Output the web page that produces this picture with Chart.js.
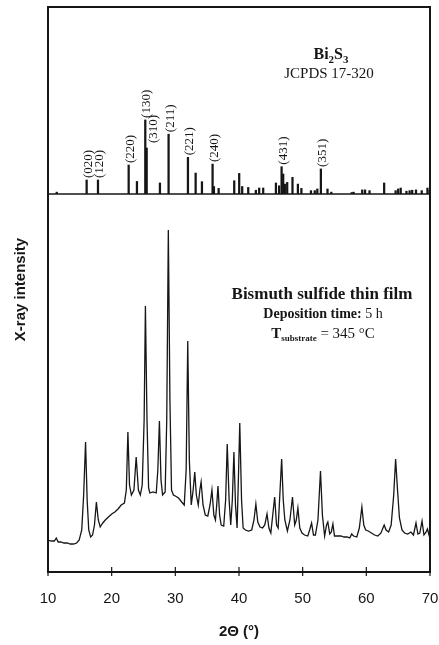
<!DOCTYPE html>
<html><head><meta charset="utf-8">
<script src="https://cdn.jsdelivr.net/npm/chart.js@4.4.0/dist/chart.umd.min.js"></script>
<style>html,body{margin:0;padding:0;background:#fff;}canvas{display:block;}</style>
</head><body>
<canvas id="c" width="439" height="645"></canvas>
<script>
// ---- Reference pattern (JCPDS 17-320) sticks ----
const refAngles = [11.37,16.07,17.85,22.67,23.97,25.28,25.5,27.58,28.94,31.98,33.19,34.18,35.85,36.06,36.8,39.25,40.03,40.5,41.45,42.65,43.17,43.8,45.8,46.3,46.69,46.94,47.2,47.57,48.4,49.25,49.8,51.3,51.9,52.3,52.86,53.9,54.5,57.7,58.0,59.35,59.8,60.5,62.8,64.6,65.0,65.4,66.3,66.8,67.2,67.8,68.7,69.6,69.95];
const refIntensity = [1,7.5,7.5,15.5,6.7,39.6,24.6,5.9,32,19.6,11.2,6.6,16,4,3,7.1,11,4,3.5,2,3.2,3.2,5.9,4.4,14.6,10.7,5.3,6.2,8.9,5.3,3,1.8,1.8,2.7,13.4,2.7,1,0.8,1,2.2,2.2,1.8,5.9,1.8,2.7,3.2,1.5,1.8,2,2.2,1.8,3.2,2];
// ---- hkl labels and the stick each belongs to ----
const hklLabels = ['(020)','(120)','(220)','(130)','(310)','(211)','(221)','(240)','(431)','(351)'];
const hklAngles = [16.07,17.85,22.67,25.28,25.5,28.94,31.98,35.85,46.69,52.86];
// ---- Measured thin-film pattern ----
const filmAngles = [10.0,10.5,11.0,11.3,11.6,12.0,12.5,13.0,13.5,14.0,14.5,14.9,15.3,15.6,15.9,16.15,16.4,16.7,17.0,17.3,17.6,17.9,18.2,18.6,19.0,19.5,20.0,20.5,21.0,21.5,22.0,22.3,22.55,22.8,23.1,23.5,23.85,24.2,24.5,24.8,25.1,25.3,25.55,25.8,26.0,26.5,27.0,27.25,27.5,27.75,28.0,28.4,28.65,28.9,29.15,29.4,29.7,30.0,30.5,31.0,31.4,31.7,31.95,32.2,32.5,32.8,33.05,33.3,33.6,33.85,34.05,34.35,34.7,35.1,35.45,35.75,36.05,36.3,36.5,36.7,36.95,37.2,37.6,37.9,38.15,38.45,38.7,38.95,39.2,39.45,39.7,39.9,40.12,40.4,40.65,41.0,41.5,42.0,42.35,42.65,42.95,43.3,43.7,44.05,44.4,44.7,45.0,45.3,45.6,45.9,46.15,46.45,46.7,46.95,47.2,47.6,48.0,48.4,48.75,49.0,49.25,49.55,49.9,50.3,50.8,51.1,51.4,51.7,52.0,52.4,52.8,53.1,53.45,53.75,53.95,54.25,54.5,54.75,55.0,55.5,56.0,56.5,57.0,57.4,57.7,58.0,58.5,58.9,59.3,59.6,59.9,60.3,60.8,61.3,61.8,62.3,62.8,63.1,63.5,63.9,64.3,64.6,64.9,65.2,65.6,66.0,66.5,67.0,67.4,67.8,68.1,68.4,68.75,69.05,69.3,69.6,69.85,70.0];
const filmIntensity = [32,31,31,34,30,30,29,29,28,28,29,32,42,77,130,72,42,35,37,47,70,52,45,49,52,55,58,60,63,67,69,82,140,87,77,82,115,82,77,87,152,266,152,84,79,80,79,102,151,92,77,80,152,342,172,82,77,76,74,70,67,102,231,112,67,82,100,77,67,82,90,67,57,56,67,82,57,52,67,86,57,47,46,72,128,72,47,72,120,67,44,92,149,72,44,42,41,42,52,68,50,45,44,47,58,44,39,57,75,47,44,82,113,72,52,41,52,75,47,52,64,44,39,37,36,42,49,37,37,52,101,57,36,47,50,38,40,48,36,36,36,35,35,34,38,36,35,44,65,47,42,41,39,37,36,39,47,42,40,47,77,113,82,54,42,39,38,40,37,49,38,39,51,37,39,43,37,39];
// ---- Axis ticks ----
const xTickValues = [10,20,30,40,50,60,70];

const INK = '#161616';
const labelStyle = {'(310)': {dx: 6, gap: 5}};

function drawRuns(ctx, runs, cx, cy) {
  let w = 0;
  runs.forEach(r => { ctx.font = r.font; r.w = ctx.measureText(r.t).width; w += r.w; });
  let x = cx - w / 2;
  ctx.textAlign = 'left'; ctx.textBaseline = 'alphabetic';
  runs.forEach(r => { ctx.font = r.font; ctx.fillText(r.t, x, cy + (r.dy || 0)); x += r.w; });
}

const annot = {
  id: 'annot',
  afterDatasetsDraw(chart) {
    const {ctx, chartArea: ca, scales} = chart;
    const x = scales.x, yT = scales.yT, yB = scales.yB;
    ctx.save();
    ctx.strokeStyle = INK; ctx.fillStyle = INK;
    // frame
    ctx.lineWidth = 2;
    ctx.strokeRect(ca.left, ca.top, ca.right - ca.left, ca.bottom - ca.top);
    ctx.lineWidth = 1.5;
    ctx.beginPath(); ctx.moveTo(ca.left, yB.top); ctx.lineTo(ca.right, yB.top); ctx.stroke();
    // x tick marks crossing the axis
    ctx.lineWidth = 1.2;
    xTickValues.forEach(v => {
      const px = x.getPixelForValue(v);
      ctx.beginPath(); ctx.moveTo(px, ca.bottom - 5); ctx.lineTo(px, ca.bottom + 4); ctx.stroke();
    });
    // hkl labels
    ctx.font = '13px "Liberation Serif", serif';
    ctx.textAlign = 'left'; ctx.textBaseline = 'middle';
    hklLabels.forEach((lab, i) => {
      const a = hklAngles[i];
      const h = refIntensity[refAngles.indexOf(a)];
      const st = labelStyle[lab] || {dx: 1, gap: 2};
      const px = x.getPixelForValue(a) + st.dx;
      const py = yT.getPixelForValue(h) - st.gap;
      ctx.save(); ctx.translate(px, py); ctx.rotate(-Math.PI / 2);
      ctx.fillText(lab, 0, 0.5); ctx.restore();
    });
    // top panel text
    const B16 = 'bold 16px "Liberation Serif", serif', Bs = 'bold 11px "Liberation Serif", serif';
    drawRuns(ctx, [{t:'Bi',font:B16},{t:'2',font:Bs,dy:4},{t:'S',font:B16},{t:'3',font:Bs,dy:4}], 331, yT.top + 52);
    drawRuns(ctx, [{t:'JCPDS 17-320',font:'15px "Liberation Serif", serif'}], 329, yT.top + 71);
    // bottom panel text
    drawRuns(ctx, [{t:'Bismuth sulfide thin film',font:'bold 17px "Liberation Serif", serif'}], 322, yB.top + 105);
    drawRuns(ctx, [{t:'Deposition time:',font:'bold 14px "Liberation Serif", serif'},{t:' 5 h',font:'14px "Liberation Serif", serif'}], 323, yB.top + 124);
    drawRuns(ctx, [{t:'T',font:'bold 15px "Liberation Serif", serif'},{t:'substrate',font:'bold 9px "Liberation Serif", serif',dy:3},{t:' = 345 °C',font:'15px "Liberation Serif", serif'}], 323, yB.top + 144);
    // y title
    ctx.save();
    ctx.translate(21, (ca.top + ca.bottom) / 2);
    ctx.rotate(-Math.PI / 2);
    ctx.font = 'bold 15px "Liberation Sans", Arial, sans-serif';
    ctx.textAlign = 'center'; ctx.textBaseline = 'middle';
    ctx.fillText('X-ray intensity', 0, 0);
    ctx.restore();
    ctx.restore();
  }
};

new Chart(document.getElementById('c'), {
  type: 'line',
  data: {
    datasets: [
      {
        type: 'bar', label: 'JCPDS 17-320',
        data: refAngles.map((a, i) => ({x: a, y: refIntensity[i]})),
        xAxisID: 'x', yAxisID: 'yT',
        backgroundColor: INK, borderWidth: 0, barThickness: 1.6, grouped: false
      },
      {
        type: 'line', label: 'Bi2S3 film',
        data: filmAngles.map((a, i) => ({x: a, y: filmIntensity[i]})),
        xAxisID: 'x', yAxisID: 'yB',
        borderColor: INK, borderWidth: 1.3, pointRadius: 0, tension: 0, fill: false
      }
    ]
  },
  options: {
    responsive: false, animation: false, devicePixelRatio: 1,
    layout: {padding: {left: 48, right: 9, top: 7, bottom: 0}},
    plugins: {legend: {display: false}, tooltip: {enabled: false}},
    scales: {
      x: {
        type: 'linear', position: 'bottom', min: 10, max: 70, offset: false,
        afterBuildTicks: s => { s.ticks = xTickValues.map(v => ({value: v})); },
        grid: {display: false, offset: false}, border: {display: false},
        ticks: {padding: 10, color: INK, font: {family: '"Liberation Sans", Arial, sans-serif', size: 15}},
        title: {display: true, text: '2Θ (°)', color: INK, padding: {top: 16, bottom: 4},
          font: {family: '"Liberation Sans", Arial, sans-serif', size: 15, weight: 'bold'}},
        afterFit: s => { s.height = 73; s.paddingLeft = 0; s.paddingRight = 0; }
      },
      yB: {
        type: 'linear', position: 'left', stack: 'p', stackWeight: 378, weight: 0,
        min: 0, max: 378, display: true,
        ticks: {display: false}, grid: {display: false}, border: {display: false},
        afterFit: s => { s.width = 0; }
      },
      yT: {
        type: 'linear', position: 'left', stack: 'p', stackWeight: 187, weight: 1,
        min: 0, max: 100, display: true,
        ticks: {display: false}, grid: {display: false}, border: {display: false},
        afterFit: s => { s.width = 0; }
      }
    }
  },
  plugins: [annot]
});
</script>
</body></html>
